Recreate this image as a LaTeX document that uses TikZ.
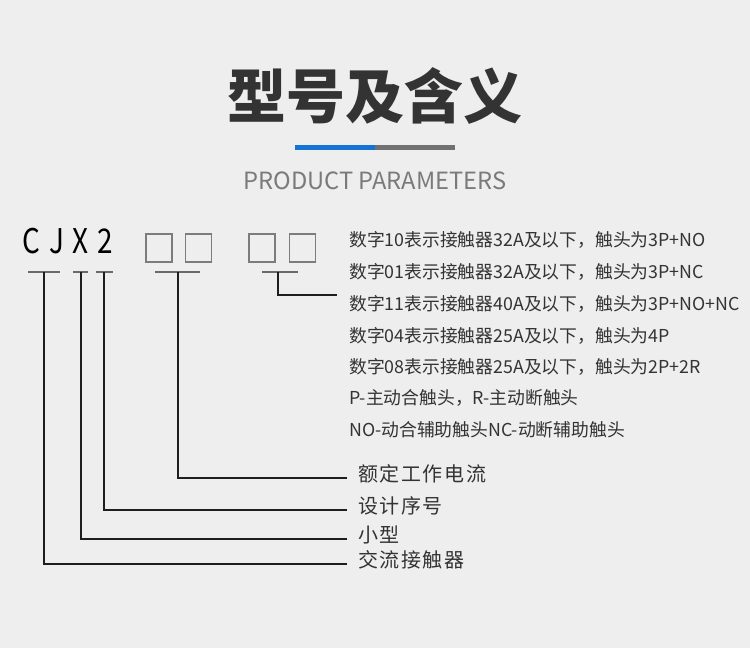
\documentclass[tikz,border=0pt]{standalone}
\usepackage{fontspec}
\newfontfamily\cjk{Noto Sans CJK SC}
\newfontfamily\cjkls{Noto Sans CJK SC}[LetterSpace=8]
\definecolor{bgc}{HTML}{EEEEEE}
\definecolor{txt}{HTML}{333333}
\definecolor{sub}{HTML}{7A7A7A}
\definecolor{barblue}{HTML}{1573D6}
\definecolor{bargray}{HTML}{707070}
\definecolor{boxgray}{HTML}{7C7C7C}
\definecolor{ulgray}{HTML}{6A6A6A}
\definecolor{linec}{HTML}{1E1E1E}
\tikzset{
  title/.style={inner sep=0, text=txt, font=\cjk\bfseries\fontsize{59}{59}\selectfont},
  subtitle/.style={inner sep=0, text=sub, font=\cjk\fontsize{23.7}{24}\selectfont},
  letter/.style={inner sep=0, text=black, text height=0.72em, text depth=0pt, font=\cjk\fontsize{34}{34}\selectfont, xscale=0.82},
  slot/.style={draw=boxgray, line width=1.1pt, minimum width=26pt, minimum height=28pt, inner sep=0},
  desc/.style={anchor=west, inner sep=0, text=txt, font=\cjk\fontsize{17.8}{18}\selectfont},
  lab/.style={anchor=west, inner sep=0, text=txt, text height=0.8em, text depth=0.1em, font=\cjkls\fontsize{20}{20}\selectfont},
  ul/.style={draw=ulgray, line width=1.1pt},
  conn/.style={draw=linec, line width=1.1pt},
}
\begin{document}
\begin{tikzpicture}[x=1pt,y=-1pt]
\useasboundingbox (0,0) rectangle (750,648);
\fill[bgc] (0,0) rectangle (750,648);

% title
\node[title] (t) at (375,96) {型号及含义};
\fill[barblue] (295,144.5) rectangle (375,149.5);
\fill[bargray] (375,144.5) rectangle (455,149.5);
\node[subtitle] (st) at (375,181) {PRODUCT PARAMETERS};

% model code
\node[letter] (cC) at (31,250) {C};
\node[letter] (cJ) at (56.5,250) {J};
\node[letter] (cX) at (80.5,250) {X};
\node[letter] (c2) at (105,250) {2};
\node[slot] (b1) at (159,248) {};
\node[slot] (b2) at (198.5,248) {};
\node[slot] (b3) at (262,248) {};
\node[slot] (b4) at (302.5,248) {};

% underlines
\draw[ul] (28,272) -- (60,272);
\draw[ul] (73,272) -- (88,272);
\draw[ul] (96,272) -- (113,272);
\draw[ul] (155,272) -- (200,272);
\draw[ul] (262,272) -- (298,272);

\coordinate (uC) at (44,272);
\coordinate (uX) at (81,272);
\coordinate (u2) at (104,272);
\coordinate (uA) at (178,272);
\coordinate (uB) at (278,272);
\coordinate (eB) at (337,295);

% descriptions
\node[desc] (r1) at (349,240) {数字10表示接触器32A及以下，触头为3P+NO};
\node[desc] (r2) at (349,272) {数字01表示接触器32A及以下，触头为3P+NC};
\node[desc] (r3) at (349,304) {数字11表示接触器40A及以下，触头为3P+NO+NC};
\node[desc] (r4) at (349,336) {数字04表示接触器25A及以下，触头为4P};
\node[desc] (r5) at (349,367) {数字08表示接触器25A及以下，触头为2P+2R};
\node[desc] (r6) at (349,398) {P-主动合触头，R-主动断触头};
\node[desc] (r7) at (349,430) {NO-动合辅助触头NC-动断辅助触头};

% labels
\node[lab] (l1) at (358,478) {额定工作电流};
\node[lab] (l2) at (358,510) {设计序号};
\node[lab] (l3) at (358,539) {小型};
\node[lab] (l4) at (358,564) {交流接触器};

% connectors
\draw[conn] (uB) |- (eB);
\draw[conn] (uA) |- ([xshift=-11pt]l1.west);
\draw[conn] (u2) |- ([xshift=-11pt]l2.west);
\draw[conn] (uX) |- ([xshift=-11pt]l3.west);
\draw[conn] (uC) |- ([xshift=-11pt]l4.west);
\end{tikzpicture}
\end{document}
